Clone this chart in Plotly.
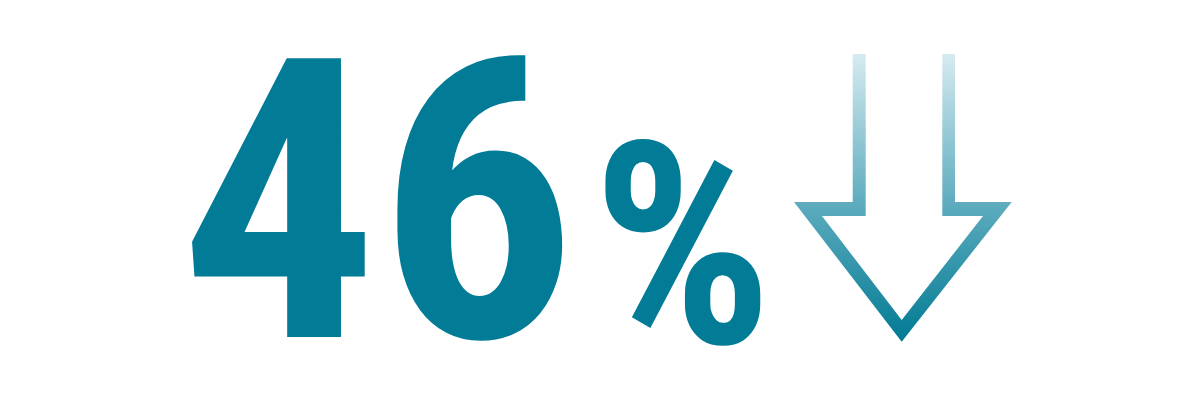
import plotly.graph_objects as go

value_text = "46"
suffix_text = "%"
teal = "#027c96"

# down arrow outline (open at top), page pixel coordinates
arrow_x = [852.7, 852.7, 794, 901.7, 1011.7, 955, 955, 942.3, 942.3, 983, 901.7, 822, 865.7, 865.7, 852.7]
arrow_y = [54, 202, 202, 341.7, 202, 202, 54, 54, 216, 216, 320, 216, 216, 54, 54]

fig = go.Figure()
fig.add_trace(go.Scatter(
    x=arrow_x, y=arrow_y, mode="lines", fill="toself",
    line=dict(width=0, color="rgba(0,0,0,0)"),
    fillgradient=dict(type="vertical", start=54, stop=342,
                      colorscale=[[0, "#d6ebf1"], [0.5, "#62aec0"], [1, "#007a93"]]),
    hoverinfo="skip", showlegend=False,
))

font_family = "Liberation Sans Narrow, Roboto Condensed, DejaVu Sans Condensed, Arial Narrow, sans-serif"
fig.add_annotation(x=178, y=203, xref="x", yref="y", text=value_text,
                   xanchor="left", yanchor="middle", showarrow=False,
                   font=dict(family=font_family, size=392, color=teal, weight="bold"))
fig.add_annotation(x=590, y=246, xref="x", yref="y", text=suffix_text,
                   xanchor="left", yanchor="middle", showarrow=False,
                   font=dict(family=font_family, size=283, color=teal, weight="bold"))

# page body has an 8px margin, so offset the ranges to keep data units = page pixels
fig.update_layout(
    width=1200, height=400, margin=dict(l=0, r=0, t=0, b=0),
    paper_bgcolor="white", plot_bgcolor="white",
    xaxis=dict(range=[8, 1208], visible=False, fixedrange=True),
    yaxis=dict(range=[408, 8], visible=False, fixedrange=True),
)
fig.write_html("out.html")
